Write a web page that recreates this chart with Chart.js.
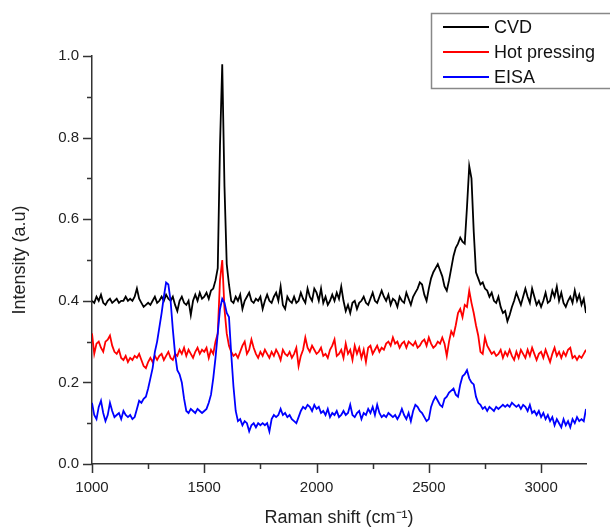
<!DOCTYPE html>
<html>
<head>
<meta charset="utf-8">
<script src="https://cdn.jsdelivr.net/npm/chart.js@4.4.1/dist/chart.umd.min.js"></script>
<style>
html,body{margin:0;padding:0;background:#fff}
canvas{display:block}
</style>
</head>
<body>
<canvas id="grafico" width="610" height="531"></canvas>
<script>
const shift=[
1000,1010,1020,1030,1040,1050,1060,1070,1080,1090,
1100,1110,1120,1130,1140,1150,1160,1170,1180,1190,
1200,1210,1220,1230,1240,1250,1260,1270,1280,1290,
1300,1310,1320,1330,1340,1350,1360,1370,1380,1390,
1400,1410,1420,1430,1440,1450,1460,1470,1480,1490,
1500,1510,1520,1530,1540,1550,1560,1570,1580,1590,
1600,1610,1620,1630,1640,1650,1660,1670,1680,1690,
1700,1710,1720,1730,1740,1750,1760,1770,1780,1790,
1800,1810,1820,1830,1840,1850,1860,1870,1880,1890,
1900,1910,1920,1930,1940,1950,1960,1970,1980,1990,
2000,2010,2020,2030,2040,2050,2060,2070,2080,2090,
2100,2110,2120,2130,2140,2150,2160,2170,2180,2190,
2200,2210,2220,2230,2240,2250,2260,2270,2280,2290,
2300,2310,2320,2330,2340,2350,2360,2370,2380,2390,
2400,2410,2420,2430,2440,2450,2460,2470,2480,2490,
2500,2510,2520,2530,2540,2550,2560,2570,2580,2590,
2600,2610,2620,2630,2640,2650,2660,2670,2680,2690,
2700,2710,2720,2730,2740,2750,2760,2770,2780,2790,
2800,2810,2820,2830,2840,2850,2860,2870,2880,2890,
2900,2910,2920,2930,2940,2950,2960,2970,2980,2990,
3000,3010,3020,3030,3040,3050,3060,3070,3080,3090,
3100,3110,3120,3130,3140,3150,3160,3170,3180,3190,
3200]

// CVD
const cvd=[
0.40,0.395,0.41,0.40,0.415,0.395,0.39,0.40,0.405,0.395,
0.40,0.405,0.395,0.40,0.40,0.41,0.40,0.405,0.40,0.41,
0.43,0.405,0.395,0.385,0.39,0.395,0.39,0.40,0.41,0.395,
0.40,0.41,0.40,0.415,0.405,0.40,0.41,0.39,0.375,0.40,
0.41,0.395,0.39,0.40,0.365,0.40,0.415,0.40,0.42,0.405,
0.41,0.42,0.405,0.425,0.43,0.45,0.48,0.78,0.98,0.68,
0.49,0.44,0.40,0.395,0.41,0.40,0.415,0.38,0.40,0.41,
0.42,0.40,0.395,0.405,0.40,0.41,0.38,0.40,0.415,0.40,
0.395,0.41,0.42,0.40,0.435,0.39,0.38,0.41,0.40,0.395,
0.41,0.395,0.40,0.42,0.405,0.395,0.43,0.41,0.40,0.43,
0.42,0.40,0.43,0.395,0.41,0.39,0.40,0.415,0.40,0.42,
0.405,0.435,0.40,0.375,0.39,0.37,0.395,0.40,0.38,0.395,
0.40,0.41,0.395,0.39,0.405,0.42,0.40,0.395,0.41,0.425,
0.41,0.40,0.415,0.39,0.405,0.40,0.385,0.41,0.40,0.395,
0.42,0.405,0.39,0.41,0.42,0.43,0.445,0.44,0.415,0.40,
0.43,0.455,0.47,0.48,0.49,0.475,0.46,0.435,0.425,0.45,
0.48,0.51,0.53,0.54,0.555,0.545,0.54,0.63,0.73,0.70,
0.57,0.47,0.455,0.44,0.445,0.43,0.425,0.41,0.42,0.40,
0.395,0.41,0.385,0.37,0.375,0.35,0.365,0.385,0.40,0.42,
0.405,0.39,0.41,0.43,0.41,0.395,0.43,0.41,0.39,0.40,
0.385,0.40,0.42,0.395,0.40,0.425,0.41,0.435,0.40,0.42,
0.395,0.385,0.40,0.41,0.395,0.425,0.40,0.415,0.39,0.405,
0.37]

// Hot pressing
const hotPressing=[
0.32,0.27,0.295,0.30,0.285,0.275,0.30,0.305,0.315,0.29,
0.275,0.27,0.28,0.26,0.255,0.265,0.25,0.26,0.255,0.265,
0.26,0.27,0.255,0.24,0.235,0.25,0.26,0.25,0.265,0.255,
0.265,0.27,0.255,0.265,0.275,0.26,0.255,0.27,0.265,0.28,
0.27,0.285,0.265,0.28,0.27,0.26,0.275,0.285,0.27,0.28,
0.275,0.285,0.26,0.28,0.27,0.30,0.32,0.45,0.50,0.38,
0.32,0.29,0.275,0.265,0.27,0.26,0.275,0.29,0.30,0.27,
0.28,0.305,0.285,0.27,0.26,0.275,0.265,0.28,0.27,0.26,
0.275,0.265,0.28,0.27,0.255,0.28,0.27,0.265,0.275,0.26,
0.27,0.285,0.24,0.265,0.28,0.31,0.285,0.275,0.29,0.28,
0.27,0.275,0.285,0.265,0.27,0.26,0.28,0.29,0.305,0.265,
0.27,0.28,0.26,0.295,0.27,0.28,0.255,0.29,0.27,0.285,
0.26,0.28,0.25,0.285,0.29,0.27,0.28,0.29,0.275,0.285,
0.28,0.295,0.30,0.29,0.31,0.295,0.30,0.285,0.295,0.30,
0.285,0.30,0.295,0.29,0.30,0.285,0.29,0.30,0.305,0.29,
0.31,0.295,0.285,0.29,0.30,0.295,0.31,0.295,0.265,0.30,
0.325,0.315,0.34,0.37,0.38,0.36,0.39,0.385,0.425,0.395,
0.37,0.34,0.315,0.275,0.27,0.31,0.29,0.28,0.27,0.275,
0.265,0.27,0.28,0.26,0.275,0.265,0.28,0.265,0.255,0.275,
0.26,0.28,0.27,0.26,0.28,0.265,0.285,0.27,0.255,0.27,
0.275,0.26,0.28,0.265,0.25,0.27,0.285,0.265,0.275,0.26,
0.275,0.265,0.28,0.285,0.26,0.265,0.255,0.265,0.26,0.27,
0.28]

// EISA
const eisa=[
0.15,0.12,0.11,0.14,0.155,0.125,0.105,0.12,0.15,0.13,
0.115,0.12,0.125,0.11,0.13,0.12,0.115,0.12,0.11,0.115,
0.135,0.155,0.15,0.16,0.165,0.185,0.21,0.235,0.275,0.30,
0.335,0.37,0.41,0.445,0.44,0.40,0.33,0.27,0.23,0.22,
0.20,0.16,0.13,0.125,0.135,0.13,0.125,0.135,0.13,0.125,
0.13,0.135,0.15,0.17,0.21,0.26,0.32,0.38,0.405,0.395,
0.37,0.36,0.27,0.19,0.13,0.105,0.11,0.095,0.105,0.10,
0.08,0.095,0.10,0.09,0.10,0.095,0.10,0.095,0.10,0.08,
0.11,0.12,0.115,0.12,0.135,0.12,0.125,0.115,0.12,0.11,
0.105,0.10,0.115,0.13,0.14,0.135,0.145,0.14,0.13,0.145,
0.135,0.14,0.125,0.13,0.12,0.135,0.115,0.125,0.12,0.13,
0.115,0.12,0.13,0.12,0.125,0.145,0.12,0.115,0.125,0.13,
0.11,0.125,0.12,0.135,0.125,0.14,0.12,0.145,0.125,0.115,
0.12,0.115,0.125,0.12,0.115,0.12,0.11,0.12,0.135,0.12,
0.11,0.125,0.105,0.13,0.145,0.14,0.13,0.125,0.115,0.105,
0.11,0.14,0.155,0.165,0.155,0.145,0.14,0.16,0.165,0.175,
0.18,0.185,0.17,0.165,0.195,0.215,0.22,0.23,0.21,0.20,
0.195,0.165,0.15,0.145,0.135,0.14,0.13,0.14,0.135,0.13,
0.14,0.135,0.14,0.145,0.14,0.145,0.14,0.15,0.145,0.14,
0.145,0.135,0.145,0.14,0.13,0.145,0.125,0.13,0.12,0.13,
0.115,0.125,0.11,0.12,0.105,0.115,0.095,0.11,0.10,0.09,
0.11,0.095,0.105,0.09,0.11,0.10,0.115,0.105,0.11,0.105,
0.135]

const nombres=["CVD","Hot pressing","EISA"]
const colores=["#000000","#ff0000","#0000ff"]

// tick positions (labels only on the long ones)
const xTicks=[1000,1250,1500,1750,2000,2250,2500,2750,3000]
const xLabels=["1000","","1500","","2000","","2500","","3000"]
const yTicks=[0,0.1,0.2,0.3,0.4,0.5,0.6,0.7,0.8,0.9,1.0]
const yLabels=["0.0","","0.2","","0.4","","0.6","","0.8","","1.0"]

const fuente='"Liberation Sans", Arial, sans-serif'
Chart.defaults.font.family=fuente
Chart.defaults.color="#222"

const puntos=(ys)=>ys.map((y,i)=>({x:shift[i],y:y}))

// tick marks: long on labelled values, short in between
const marcas={
    id:"marcas",
    afterDraw(chart){
        const c=chart.ctx
        const xs=chart.scales.x
        const ys=chart.scales.y
        c.save()
        c.strokeStyle="#333"
        c.lineWidth=1.5
        c.beginPath()
        xTicks.forEach((v,i)=>{
            const px=Math.round(xs.getPixelForValue(v))+0.5
            const largo=xLabels[i]?9:5
            c.moveTo(px,xs.top)
            c.lineTo(px,xs.top+largo)
        })
        yTicks.forEach((v,i)=>{
            const py=Math.round(ys.getPixelForValue(v))+0.5
            const largo=yLabels[i]?9:5
            c.moveTo(ys.right,py)
            c.lineTo(ys.right-largo,py)
        })
        c.stroke()
        c.restore()
    }
}

const leyenda={
    id:"leyenda",
    afterDraw(chart){
        const c=chart.ctx
        c.save()
        c.strokeStyle="#888"
        c.lineWidth=1.5
        c.strokeRect(431.5,13.5,200,75)
        c.font="18px "+fuente
        c.textBaseline="middle"
        chart.data.datasets.forEach((ds,i)=>{
            const y=27+i*25
            c.strokeStyle=ds.borderColor
            c.lineWidth=2
            c.beginPath()
            c.moveTo(443,y)
            c.lineTo(489,y)
            c.stroke()
            c.fillStyle="#111"
            c.fillText(ds.label,494,y+1)
        })
        c.restore()
    }
}

const ctx=document.getElementById("grafico")
const grafico=new Chart(ctx,{
    type:"line",
    data:{
        datasets:[
            {label:nombres[0],data:puntos(cvd),borderColor:colores[0],order:3},
            {label:nombres[1],data:puntos(hotPressing),borderColor:colores[1],order:2},
            {label:nombres[2],data:puntos(eisa),borderColor:colores[2],order:1}
        ]
    },
    options:{
        responsive:false,
        animation:false,
        devicePixelRatio:1,
        layout:{padding:{top:56,right:24,left:0,bottom:0}},
        elements:{
            line:{borderWidth:1.8,tension:0,fill:false},
            point:{radius:0}
        },
        plugins:{legend:{display:false},tooltip:{enabled:false}},
        scales:{
            x:{
                type:"linear",
                min:1000,
                max:3200,
                afterBuildTicks:(s)=>{s.ticks=xTicks.map(v=>({value:v}))},
                afterFit:(s)=>{s.height=67},
                ticks:{
                    autoSkip:false,
                    maxRotation:0,
                    padding:15,
                    color:"#222",
                    font:{size:15},
                    callback:(v,i)=>xLabels[i]
                },
                grid:{drawOnChartArea:false,drawTicks:false},
                border:{color:"#333",width:1.5},
                title:{display:true,text:"Raman shift (cm⁻¹)",color:"#222",font:{size:18},padding:{top:0,bottom:2}}
            },
            y:{
                min:0,
                max:1,
                afterBuildTicks:(s)=>{s.ticks=yTicks.map(v=>({value:v}))},
                afterFit:(s)=>{s.width=92},
                ticks:{
                    autoSkip:false,
                    padding:13,
                    color:"#222",
                    font:{size:15},
                    callback:(v,i)=>yLabels[i]
                },
                grid:{drawOnChartArea:false,drawTicks:false},
                border:{color:"#333",width:1.5},
                title:{display:true,text:"Intensity (a.u)",color:"#222",font:{size:18},padding:{top:9,bottom:0}}
            }
        }
    },
    plugins:[marcas,leyenda]
})
</script>
</body>
</html>
